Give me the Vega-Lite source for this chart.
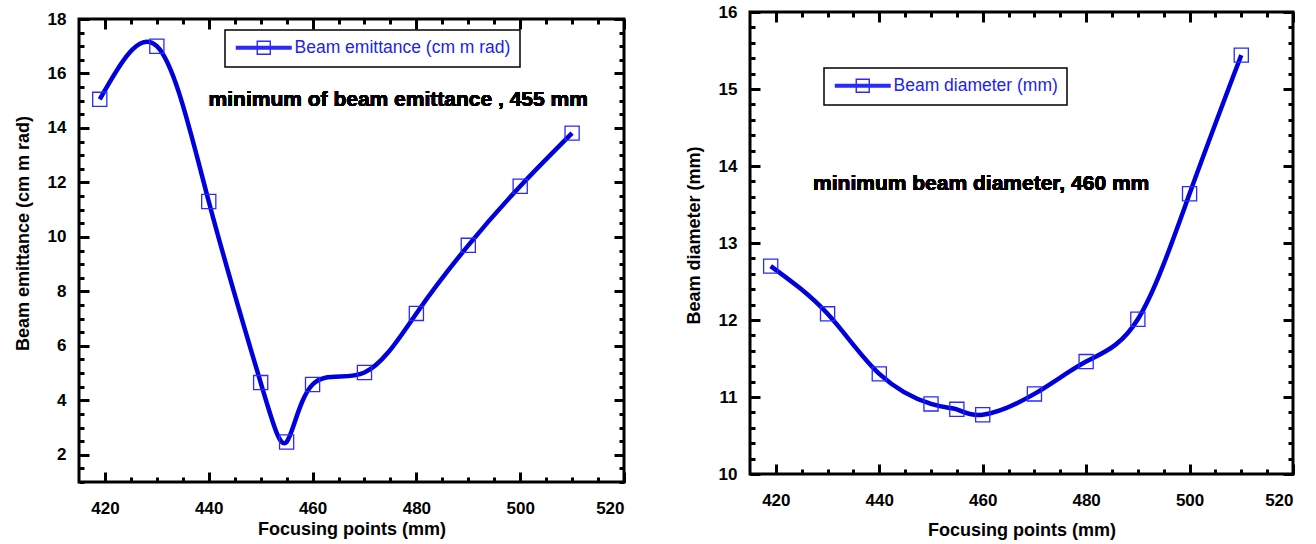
{
  "$schema": "https://vega.github.io/schema/vega-lite/v6.json",
  "background": "white",
  "padding": {"left": 12, "top": 1, "right": 5, "bottom": 5},
  "spacing": 56,
  "resolve": {"scale": {"color": "independent"}, "legend": {"color": "independent"}},
  "datasets": {
    "emit": [
      {"focus": 419, "value": 15.05, "series": "Beam emittance (cm m rad)"},
      {"focus": 430, "value": 17.0, "series": "Beam emittance (cm m rad)"},
      {"focus": 440, "value": 11.3, "series": "Beam emittance (cm m rad)"},
      {"focus": 450, "value": 4.65, "series": "Beam emittance (cm m rad)"},
      {"focus": 455, "value": 2.47, "series": "Beam emittance (cm m rad)"},
      {"focus": 460, "value": 4.58, "series": "Beam emittance (cm m rad)"},
      {"focus": 470, "value": 5.02, "series": "Beam emittance (cm m rad)"},
      {"focus": 480, "value": 7.19, "series": "Beam emittance (cm m rad)"},
      {"focus": 490, "value": 9.69, "series": "Beam emittance (cm m rad)"},
      {"focus": 500, "value": 11.86, "series": "Beam emittance (cm m rad)"},
      {"focus": 510, "value": 13.81, "series": "Beam emittance (cm m rad)"}
    ],
    "diam": [
      {"focus": 419, "value": 12.70, "series": "Beam diameter (mm)"},
      {"focus": 430, "value": 12.08, "series": "Beam diameter (mm)"},
      {"focus": 440, "value": 11.30, "series": "Beam diameter (mm)"},
      {"focus": 450, "value": 10.91, "series": "Beam diameter (mm)"},
      {"focus": 455, "value": 10.84, "series": "Beam diameter (mm)"},
      {"focus": 460, "value": 10.77, "series": "Beam diameter (mm)"},
      {"focus": 470, "value": 11.04, "series": "Beam diameter (mm)"},
      {"focus": 480, "value": 11.46, "series": "Beam diameter (mm)"},
      {"focus": 490, "value": 12.01, "series": "Beam diameter (mm)"},
      {"focus": 500, "value": 13.64, "series": "Beam diameter (mm)"},
      {"focus": 510, "value": 15.44, "series": "Beam diameter (mm)"}
    ]
  },
  "config": {
    "view": {"stroke": "black", "strokeWidth": 3},
    "font": "Liberation Sans",
    "axis": {
      "domain": false, "grid": false,
      "tickColor": "black", "tickWidth": 3, "tickCap": "butt",
      "labelFont": "Liberation Sans", "labelFontWeight": "bold", "labelFontSize": 17, "labelColor": "black",
      "titleFont": "Liberation Sans", "titleFontWeight": "bold", "titleFontSize": 18, "titleColor": "black"
    },
    "legend": {
      "strokeColor": "black", "fillColor": "white", "strokeWidth": 1.5,
      "padding": 9, "title": null,
      "labelFont": "Liberation Sans", "labelFontSize": 17.5, "labelColor": "#2222ee", "labelLimit": 400,
      "symbolType": "M-4,-0.2L4,-0.2M-4,0L4,0M-4,0.2L4,0.2M-0.93,-0.93L0.93,-0.93L0.93,0.93L-0.93,0.93Z",
      "symbolSize": 196, "symbolOffset": 21, "labelOffset": 22, "symbolOpacity": 1,
      "symbolStrokeColor": "#0000dd", "symbolStrokeWidth": 1.4, "symbolFillColor": "transparent"
    }
  },
  "hconcat": [
    {
      "vconcat": [
        {
          "width": 1, "height": 1,
          "view": {"stroke": null},
          "data": {"values": []},
          "mark": "point",
          "encoding": {}
        },
        {
          "width": 545, "height": 463,
          "data": {"name": "emit"},
          "layer": [
            {
              "mark": {"type": "line", "interpolate": "natural", "color": "#0000dd", "strokeWidth": 4.5},
              "encoding": {
                "x": {"field": "focus", "type": "quantitative",
                  "scale": {"domain": [415, 520], "nice": false, "zero": false},
                  "axis": {"orient": "bottom", "values": [420, 440, 460, 480, 500, 520], "tickSize": -10, "labelPadding": 28, "labelBaseline": "top", "title": "Focusing points (mm)", "titlePadding": 4}},
                "y": {"field": "value", "type": "quantitative",
                  "scale": {"domain": [1, 18], "nice": false, "zero": false},
                  "axis": {"orient": "left", "values": [2, 4, 6, 8, 10, 12, 14, 16, 18], "tickSize": -10, "labelPadding": 23, "title": "Beam emittance (cm m rad)", "titlePadding": 15, "titleY": 214}}
              }
            },
            {
              "mark": {"type": "square", "filled": false, "size": 200, "strokeWidth": 1.3, "opacity": 1},
              "encoding": {
                "x": {"field": "focus", "type": "quantitative",
                  "axis": {"orient": "bottom", "values": [420,425,430,435,440,445,450,455,460,465,470,475,480,485,490,495,500,505,510,515,520], "tickSize": -5, "labels": false, "title": null}},
                "y": {"field": "value", "type": "quantitative",
                  "axis": {"orient": "left", "values": [1,1.5,2,2.5,3,3.5,4,4.5,5,5.5,6,6.5,7,7.5,8,8.5,9,9.5,10,10.5,11,11.5,12,12.5,13,13.5,14,14.5,15,15.5,16,16.5,17,17.5,18], "tickSize": -5, "labels": false, "title": null}},
                "color": {"field": "series", "type": "nominal", "scale": {"range": ["#2a2aff"]},
                  "legend": {"orient": "none", "legendX": 146, "legendY": 18}}
              }
            },
            {
              "mark": {"type": "text", "text": "minimum of beam emittance , 455 mm", "font": "Liberation Sans", "fontWeight": "bold", "fontSize": 21, "color": "black"},
              "encoding": {
                "x": {"datum": 476.5, "type": "quantitative",
                  "axis": {"orient": "top", "values": [420, 440, 460, 480, 500, 520], "tickSize": -10, "labels": false, "title": null}},
                "y": {"datum": 15.03, "type": "quantitative",
                  "axis": {"orient": "right", "values": [2, 4, 6, 8, 10, 12, 14, 16, 18], "tickSize": -10, "labels": false, "title": null}}
              }
            },
            {
              "mark": {"type": "line", "opacity": 0},
              "encoding": {
                "x": {"field": "focus", "type": "quantitative",
                  "axis": {"orient": "top", "values": [420,425,430,435,440,445,450,455,460,465,470,475,480,485,490,495,500,505,510,515,520], "tickSize": -5, "labels": false, "title": null}},
                "y": {"field": "value", "type": "quantitative",
                  "axis": {"orient": "right", "values": [1,1.5,2,2.5,3,3.5,4,4.5,5,5.5,6,6.5,7,7.5,8,8.5,9,9.5,10,10.5,11,11.5,12,12.5,13,13.5,14,14.5,15,15.5,16,16.5,17,17.5,18], "tickSize": -5, "labels": false, "title": null}}
              }
            }
          ],
          "resolve": {"axis": {"x": "independent", "y": "independent"}}
        }
      ],
      "spacing": 6,
      "bounds": "flush"
    },
    {
      "width": 543, "height": 462,
      "data": {"name": "diam"},
      "layer": [
        {
          "mark": {"type": "line", "interpolate": "natural", "color": "#0000dd", "strokeWidth": 4.5},
          "encoding": {
            "x": {"field": "focus", "type": "quantitative",
              "scale": {"domain": [415, 520], "nice": false, "zero": false},
              "axis": {"orient": "bottom", "values": [420, 440, 460, 480, 500, 520], "tickSize": -10, "labelPadding": 28, "labelBaseline": "top", "title": "Focusing points (mm)", "titlePadding": 13}},
            "y": {"field": "value", "type": "quantitative",
              "scale": {"domain": [10, 16], "nice": false, "zero": false},
              "axis": {"orient": "left", "values": [10, 11, 12, 13, 14, 15, 16], "tickSize": -10, "labelPadding": 23, "title": "Beam diameter (mm)", "titlePadding": 15, "titleY": 223}}
          }
        },
        {
          "mark": {"type": "square", "filled": false, "size": 200, "strokeWidth": 1.3, "opacity": 1},
          "encoding": {
            "x": {"field": "focus", "type": "quantitative",
              "axis": {"orient": "bottom", "values": [420,425,430,435,440,445,450,455,460,465,470,475,480,485,490,495,500,505,510,515,520], "tickSize": -5, "labels": false, "title": null}},
            "y": {"field": "value", "type": "quantitative",
              "axis": {"orient": "left", "values": [10,10.2,10.4,10.6,10.8,11,11.2,11.4,11.6,11.8,12,12.2,12.4,12.6,12.8,13,13.2,13.4,13.6,13.8,14,14.2,14.4,14.6,14.8,15,15.2,15.4,15.6,15.8,16], "tickSize": -5, "labels": false, "title": null}},
            "color": {"field": "series", "type": "nominal", "scale": {"range": ["#2a2aff"]},
              "legend": {"orient": "none", "legendX": 74, "legendY": 56}}
          }
        },
        {
          "mark": {"type": "text", "text": "minimum beam diameter, 460 mm", "font": "Liberation Sans", "fontWeight": "bold", "fontSize": 21, "color": "black"},
          "encoding": {
            "x": {"datum": 459.7, "type": "quantitative",
              "axis": {"orient": "top", "values": [420, 440, 460, 480, 500, 520], "tickSize": -10, "labels": false, "title": null}},
            "y": {"datum": 13.77, "type": "quantitative",
              "axis": {"orient": "right", "values": [10, 11, 12, 13, 14, 15, 16], "tickSize": -10, "labels": false, "title": null}}
          }
        },
        {
          "mark": {"type": "line", "opacity": 0},
          "encoding": {
            "x": {"field": "focus", "type": "quantitative",
              "axis": {"orient": "top", "values": [420,425,430,435,440,445,450,455,460,465,470,475,480,485,490,495,500,505,510,515,520], "tickSize": -5, "labels": false, "title": null}},
            "y": {"field": "value", "type": "quantitative",
              "axis": {"orient": "right", "values": [10,10.2,10.4,10.6,10.8,11,11.2,11.4,11.6,11.8,12,12.2,12.4,12.6,12.8,13,13.2,13.4,13.6,13.8,14,14.2,14.4,14.6,14.8,15,15.2,15.4,15.6,15.8,16], "tickSize": -5, "labels": false, "title": null}}
          }
        }
      ],
      "resolve": {"axis": {"x": "independent", "y": "independent"}}
    }
  ]
}
